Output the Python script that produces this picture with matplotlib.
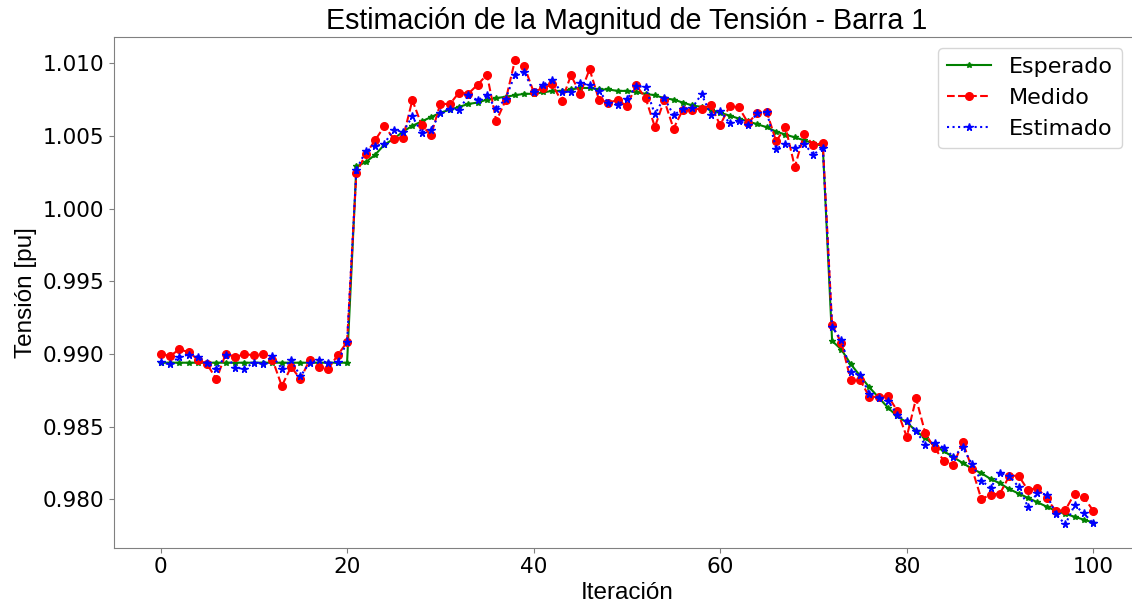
import numpy as np
import matplotlib
matplotlib.use('Agg')
import matplotlib.pyplot as plt

iteracion = np.arange(0, 101)

esperado = [
    0.9894, 0.9894, 0.9894, 0.9894, 0.9894, 0.9894, 0.9894, 0.9894, 0.9894, 0.9894,
    0.9894, 0.9894, 0.9894, 0.9894, 0.9894, 0.9894, 0.9894, 0.9894, 0.9894, 0.9894,
    0.9894,
    1.0029, 1.0032, 1.0037, 1.0044, 1.0048, 1.0053, 1.0057, 1.0060, 1.0063, 1.0066,
    1.0068, 1.0070, 1.0072, 1.0073, 1.0075, 1.0076, 1.0077, 1.0078, 1.0079, 1.0079,
    1.0080, 1.0081, 1.0081, 1.0082, 1.0083, 1.0083, 1.0082, 1.0082, 1.0081, 1.0081,
    1.0080, 1.0079, 1.0078, 1.0076, 1.0075, 1.0073, 1.0071, 1.0070, 1.0068, 1.0066,
    1.0064, 1.0062, 1.0060, 1.0058, 1.0056, 1.0053, 1.0051, 1.0049, 1.0047, 1.0045,
    1.0043,
    0.9909, 0.9903, 0.9893, 0.9885, 0.9877, 0.9870, 0.9863, 0.9857, 0.9853, 0.9847,
    0.9842, 0.9837, 0.9833, 0.9829, 0.9825, 0.9821, 0.9818, 0.9814, 0.9811, 0.9807,
    0.9804, 0.9801, 0.9798, 0.9795, 0.9792, 0.9790, 0.9788, 0.9786, 0.9784,
]

medido = [
    0.99003, 0.98985, 0.99031, 0.99014, 0.98962, 0.98928, 0.98827, 0.99003, 0.98980, 0.98998,
    0.98992, 0.99003, 0.98962, 0.98780, 0.98911, 0.98827, 0.98962, 0.98911, 0.98900, 0.98992,
    0.99083,
    1.00246, 1.00374, 1.00470, 1.00567, 1.00482, 1.00489, 1.00746, 1.00574, 1.00505, 1.00723,
    1.00718, 1.00798, 1.00791, 1.00853, 1.00922, 1.00603, 1.00746, 1.01021, 1.00979, 1.00803,
    1.00830, 1.00855, 1.00739, 1.00917, 1.00791, 1.00959, 1.00750, 1.00730, 1.00746, 1.00707,
    1.00849, 1.00761, 1.00562, 1.00746, 1.00551, 1.00681, 1.00681, 1.00688, 1.00711, 1.00574,
    1.00704, 1.00697, 1.00589, 1.00661, 1.00665, 1.00463, 1.00562, 1.00287, 1.00512, 1.00436,
    1.00452,
    0.99198, 0.99076, 0.98820, 0.98820, 0.98705, 0.98705, 0.98709, 0.98609, 0.98430, 0.98694,
    0.98453, 0.98350, 0.98265, 0.98235, 0.98396, 0.98212, 0.98001, 0.98033, 0.98040, 0.98162,
    0.98162, 0.98063, 0.98079, 0.98006, 0.97919, 0.97926, 0.98040, 0.98013, 0.97921,
]

estimado = [
    0.98946, 0.98928, 0.98980, 0.98996, 0.98980, 0.98941, 0.98895, 0.98992, 0.98904, 0.98900,
    0.98941, 0.98934, 0.98985, 0.98900, 0.98957, 0.98847, 0.98941, 0.98957, 0.98939, 0.98946,
    0.99083,
    1.00269, 1.00395, 1.00429, 1.00448, 1.00544, 1.00528, 1.00635, 1.00521, 1.00544, 1.00658,
    1.00688, 1.00677, 1.00780, 1.00746, 1.00780, 1.00684, 1.00757, 1.00922, 1.00940, 1.00803,
    1.00853, 1.00883, 1.00803, 1.00803, 1.00865, 1.00849, 1.00810, 1.00727, 1.00716, 1.00752,
    1.00844, 1.00837, 1.00649, 1.00764, 1.00642, 1.00688, 1.00693, 1.00787, 1.00647, 1.00672,
    1.00589, 1.00601, 1.00578, 1.00658, 1.00665, 1.00413, 1.00443, 1.00418, 1.00443, 1.00372,
    1.00420,
    0.99186, 0.99095, 0.98877, 0.98854, 0.98728, 0.98700, 0.98678, 0.98579, 0.98538, 0.98471,
    0.98373, 0.98391, 0.98354, 0.98292, 0.98357, 0.98242, 0.98127, 0.98081, 0.98182, 0.98159,
    0.98086, 0.97948, 0.98045, 0.98033, 0.97898, 0.97827, 0.97960, 0.97903, 0.97834,
]

arial = 'Liberation Sans'
fig, ax = plt.subplots(figsize=(11.32, 6.02), dpi=100)
fig.subplots_adjust(left=0.1006, right=1.007, top=0.9385, bottom=0.0902)

ax.plot(iteracion, esperado, 'g-', marker='*', markersize=4, label='Esperado')
ax.plot(iteracion, medido, 'r--', marker='o', markersize=5.5, label='Medido')
ax.plot(iteracion, estimado, 'b:', marker='*', markersize=5.5, label='Estimado')

ax.set_title('Estimación de la Magnitud de Tensión - Barra 1', fontsize=20.6, family=arial)
ax.set_xlabel('Iteración', fontsize=17.5, family=arial, labelpad=3)
ax.set_ylabel('Tensión [pu]', fontsize=17.5, family=arial)
ax.tick_params(labelsize=15.6, color='0.5')
for s in ax.spines.values():
    s.set_edgecolor('0.5')
ax.legend(fontsize=16, loc='upper right', bbox_to_anchor=(0.9935, 1.0))

fig.savefig('out.png', dpi=100)
